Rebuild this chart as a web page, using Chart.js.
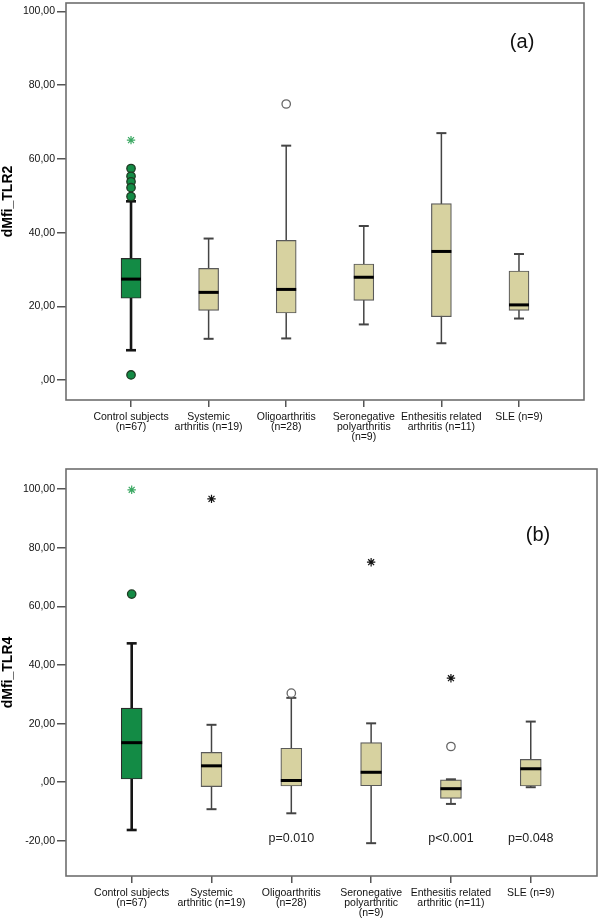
<!DOCTYPE html>
<html><head><meta charset="utf-8">
<script src="https://cdn.jsdelivr.net/npm/chart.js@4/dist/chart.umd.min.js"></script>
<style>
html,body{margin:0;padding:0;background:#fff;}
#wrap{position:relative;width:600px;height:920px;}
.panel{position:absolute;left:0;width:600px;height:460px;}
</style></head><body>
<div id="wrap">
<div class="panel" style="top:0"><canvas id="cA" width="600" height="460"></canvas></div>
<div class="panel" style="top:460px"><canvas id="cB" width="600" height="460"></canvas></div>
</div>
<script>
// ---------- Panel (a): dMfi_TLR2 ----------
const catsA = [['Control subjects','(n=67)'],['Systemic','arthritis (n=19)'],['Oligoarthritis','(n=28)'],['Seronegative','polyarthritis','(n=9)'],['Enthesitis related','arthritis (n=11)'],['SLE (n=9)']];
const loA  = [8.1, 11.2, 11.3, 15.1, 10.0, 16.7];
const q1A  = [22.2, 18.9, 18.2, 21.6, 17.2, 18.9];
const medA = [27.4, 23.8, 24.6, 27.9, 34.9, 20.4];
const q3A  = [33.0, 30.3, 37.9, 31.5, 47.9, 29.6];
const hiA  = [48.5, 38.4, 63.6, 41.8, 67.0, 34.2];
const circlesA = [[57.4, 55.3, 53.8, 52.2, 49.8, 1.4], [], [74.9], [], [], []];
const starsA   = [[65.1], [], [], [], [], []];
const yTicksA  = [0, 20, 40, 60, 80, 100];
const pValsA   = ['', '', '', '', '', ''];

// ---------- Panel (b): dMfi_TLR4 ----------
const catsB = [['Control subjects','(n=67)'],['Systemic','arthritic (n=19)'],['Oligoarthritis','(n=28)'],['Seronegative','polyarthritic','(n=9)'],['Enthesitis related','arthritic (n=11)'],['SLE (n=9)']];
const loB  = [-16.3, -9.2, -10.6, -20.8, -7.4, -1.7];
const q1B  = [1.1, -1.5, -1.3, -1.2, -5.5, -1.3];
const medB = [13.5, 5.6, 0.6, 3.4, -2.2, 4.6];
const q3B  = [25.3, 10.2, 11.6, 13.5, 0.8, 7.8];
const hiB  = [47.4, 19.6, 28.8, 20.1, 1.0, 20.7];
const circlesB = [[64.2], [], [30.4], [], [12.2], []];
const starsB   = [[99.8], [96.7], [], [75.1], [35.5], []];
const yTicksB  = [-20, 0, 20, 40, 60, 80, 100];
const pValsB   = ['', '', 'p=0.010', '', 'p<0.001', 'p=0.048'];

const FONT = '"Liberation Sans", Arial, sans-serif';
const GREEN = '#138b45', TAN = '#d7d2a0';

const annot = {
  id: 'annot',
  afterDatasetsDraw(chart, args, o) {
    const {ctx, chartArea: a, scales: {x, y}} = chart;
    ctx.save();
    ctx.strokeStyle = '#6e6e6e'; ctx.lineWidth = 1.6;
    ctx.strokeRect(a.left, a.top, a.right - a.left, a.bottom - a.top);
    ctx.fillStyle = '#111'; ctx.textAlign = 'center'; ctx.textBaseline = 'middle';
    ctx.font = '20px ' + FONT;
    ctx.fillText(o.tag, x.getPixelForValue(o.tagX), y.getPixelForValue(o.tagY));
    ctx.font = '12.5px ' + FONT; ctx.fillStyle = '#222';
    o.pvals.forEach((p, i) => { if (p) ctx.fillText(p, x.getPixelForValue(i), y.getPixelForValue(o.pY)); });
    ctx.restore();
  }
};

function makePanel(id, c) {
  const n = c.cats.length;
  const ds = [];
  for (let i = 0; i < n; i++) {
    ds.push({type: 'line', data: [{x: i, y: c.lo[i]}, {x: i, y: c.hi[i]}],
      borderColor: i === 0 ? '#151515' : '#444', borderWidth: i === 0 ? 2.6 : 1.5,
      pointRadius: 0, order: 6});
  }
  ds.push({type: 'bar', data: c.q1.map((v, i) => ({x: i, y: [v, c.q3[i]]})),
    backgroundColor: c.q1.map((v, i) => i === 0 ? GREEN : TAN),
    borderColor: c.q1.map((v, i) => i === 0 ? '#2b2b2b' : '#5a5a5a'),
    borderWidth: 1.2, borderSkipped: false, barThickness: c.barW, order: 5});
  const caps = [];
  c.lo.forEach((v, i) => { caps.push({x: i, y: v}); caps.push({x: i, y: c.hi[i]}); });
  ds.push({type: 'scatter', data: caps, pointStyle: 'line', pointRadius: 5,
    borderColor: ctx => (ctx.raw && ctx.raw.x === 0) ? '#151515' : '#444',
    borderWidth: ctx => (ctx.raw && ctx.raw.x === 0) ? 2.6 : 2, order: 4});
  ds.push({type: 'scatter', data: c.med.map((v, i) => ({x: i, y: v})), pointStyle: 'line',
    pointRadius: c.barW / 2, borderColor: '#000', borderWidth: 3, order: 3});
  const circ = [];
  c.circles.forEach((arr, i) => arr.forEach(v => circ.push({x: i, y: v})));
  ds.push({type: 'scatter', data: circ, pointStyle: 'circle', pointRadius: 4.2,
    backgroundColor: ctx => (ctx.raw && ctx.raw.x === 0) ? GREEN : '#fff',
    borderColor: ctx => (ctx.raw && ctx.raw.x === 0) ? '#1d3b22' : '#666',
    borderWidth: 1.3, order: 2});
  const st = [];
  c.stars.forEach((arr, i) => arr.forEach(v => st.push({x: i, y: v})));
  ds.push({type: 'scatter', data: st, pointStyle: 'star', pointRadius: 4.2,
    borderColor: ctx => (ctx.raw && ctx.raw.x === 0) ? '#3aa862' : '#111',
    borderWidth: 1.2, order: 1});

  return new Chart(document.getElementById(id), {
    type: 'bar',
    data: {datasets: ds},
    plugins: [annot],
    options: {
      responsive: false, animation: false,
      layout: {padding: c.pad, autoPadding: false},
      plugins: {legend: {display: false}, tooltip: {enabled: false},
        annot: {tag: c.tag, tagX: c.tagX, tagY: c.tagY, pvals: c.pvals, pY: c.pY}},
      scales: {
        x: {type: 'linear', min: c.xMin, max: c.xMax, offset: false,
          afterBuildTicks: s => { s.ticks = c.cats.map((l, i) => ({value: i})); },
          afterFit: s => { s.height = c.axisH; s.paddingLeft = 0; s.paddingRight = 0; },
          border: {display: false},
          grid: {offset: false, drawOnChartArea: false, drawTicks: true, tickLength: 7, color: '#555', lineWidth: 1.5},
          ticks: {autoSkip: false, maxRotation: 0, minRotation: 0, padding: c.xPad, color: '#111',
            font: {family: FONT, size: 10.5, lineHeight: 0.96},
            callback: (v, idx) => c.cats[idx]}},
        y: {type: 'linear', min: c.yMin, max: c.yMax, beginAtZero: false,
          afterBuildTicks: s => { s.ticks = c.yTicks.map(v => ({value: v})); },
          afterFit: s => { s.width = 66; s.paddingTop = 0; s.paddingBottom = 0; },
          border: {display: false},
          grid: {drawOnChartArea: false, drawTicks: true, tickLength: 9, color: '#555', lineWidth: 1.5},
          title: {display: true, text: c.yTitle, color: '#000', padding: 0,
            font: {family: FONT, size: 14, weight: 'bold'}},
          ticks: {padding: 2, color: '#111', font: {family: FONT, size: 10.5},
            callback: v => v === 0 ? ',00' : v.toFixed(2).replace('.', ',')}}
      }
    }
  });
}

makePanel('cA', {cats: catsA, lo: loA, q1: q1A, med: medA, q3: q3A, hi: hiA,
  circles: circlesA, stars: starsA, yTicks: yTicksA, pvals: pValsA, pY: 0,
  yMin: -5.4, yMax: 102.3, xMin: -0.838, xMax: 5.838, yTitle: 'dMfi_TLR2',
  tag: '(a)', tagX: 5.04, tagY: 91.7, barW: 20, axisH: 60, xPad: 5,
  pad: {top: 3, right: 16, bottom: 0, left: 0}});

makePanel('cB', {cats: catsB, lo: loB, q1: q1B, med: medB, q3: q3B, hi: hiB,
  circles: circlesB, stars: starsB, yTicks: yTicksB, pvals: pValsB, pY: -19.2,
  yMin: -32.0, yMax: 106.9, xMin: -0.823, xMax: 5.83, yTitle: 'dMfi_TLR4',
  tag: '(b)', tagX: 5.09, tagY: 84.1, barW: 21, axisH: 44, xPad: 5,
  pad: {top: 9, right: 3, bottom: 0, left: 0}});
</script>
</body></html>
